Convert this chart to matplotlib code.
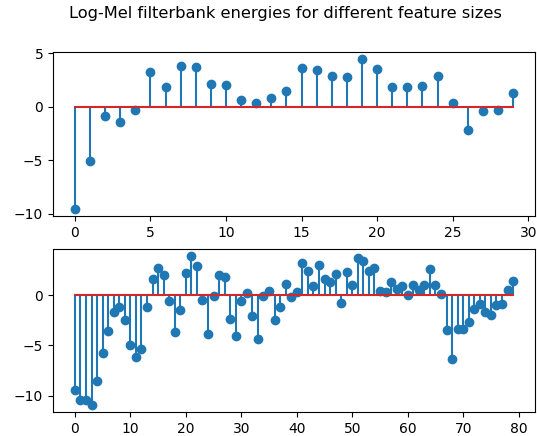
import matplotlib
matplotlib.use("Agg")
import matplotlib.pyplot as plt
import numpy as np

title = "Log-Mel filterbank energies for different feature sizes"

energies_30 = [-9.5, -5.1, -0.85, -1.4, -0.3, 3.25, 1.8, 3.8, 3.7, 2.1,
               2.05, 0.6, 0.35, 0.8, 1.45, 3.6, 3.4, 2.9, 2.8, 4.4,
               3.5, 1.8, 1.8, 1.95, 2.9, 0.35, -2.2, -0.45, -0.35, 1.3]

energies_80 = [-9.4, -10.45, -10.45, -10.9, -8.55, -5.75, -3.6, -1.65, -1.15, -2.45,
               -5.0, -6.15, -5.4, -1.2, 1.6, 2.65, 2.0, -0.55, -3.7, -1.5,
               2.2, 3.85, 2.9, -0.5, -3.9, -0.1, 2.0, 1.8, -2.35, -4.1,
               -0.55, 0.25, -2.05, -4.35, -0.1, 0.45, -2.45, -1.2, 1.1, -0.15,
               0.35, 3.2, 2.35, 0.9, 3.0, 1.6, 1.3, 2.05, -0.75, 2.25,
               1.0, 3.7, 3.4, 2.35, 2.65, 0.4, 0.3, 1.3, 0.65, 0.9,
               0.05, 1.0, 0.5, 1.0, 2.55, 1.0, 0.15, -3.5, -6.35, -3.35,
               -3.35, -2.7, -1.4, -0.9, -1.7, -2.0, -1.0, -0.9, 0.55, 1.4]

fig = plt.figure(figsize=(5.37, 4.36), dpi=100)
ax1 = fig.add_axes([53/537, 1-216/436, (535-53)/537, (216-52)/436])
ax2 = fig.add_axes([53/537, 1-412/436, (535-53)/537, (412-249)/436])

ax1.stem(np.arange(len(energies_30)), energies_30)
ax2.stem(np.arange(len(energies_80)), energies_80)

fig.text(285/537, 1-6/436, title, fontsize=11.7, ha="center", va="top")
fig.savefig("out.png", dpi=100)
